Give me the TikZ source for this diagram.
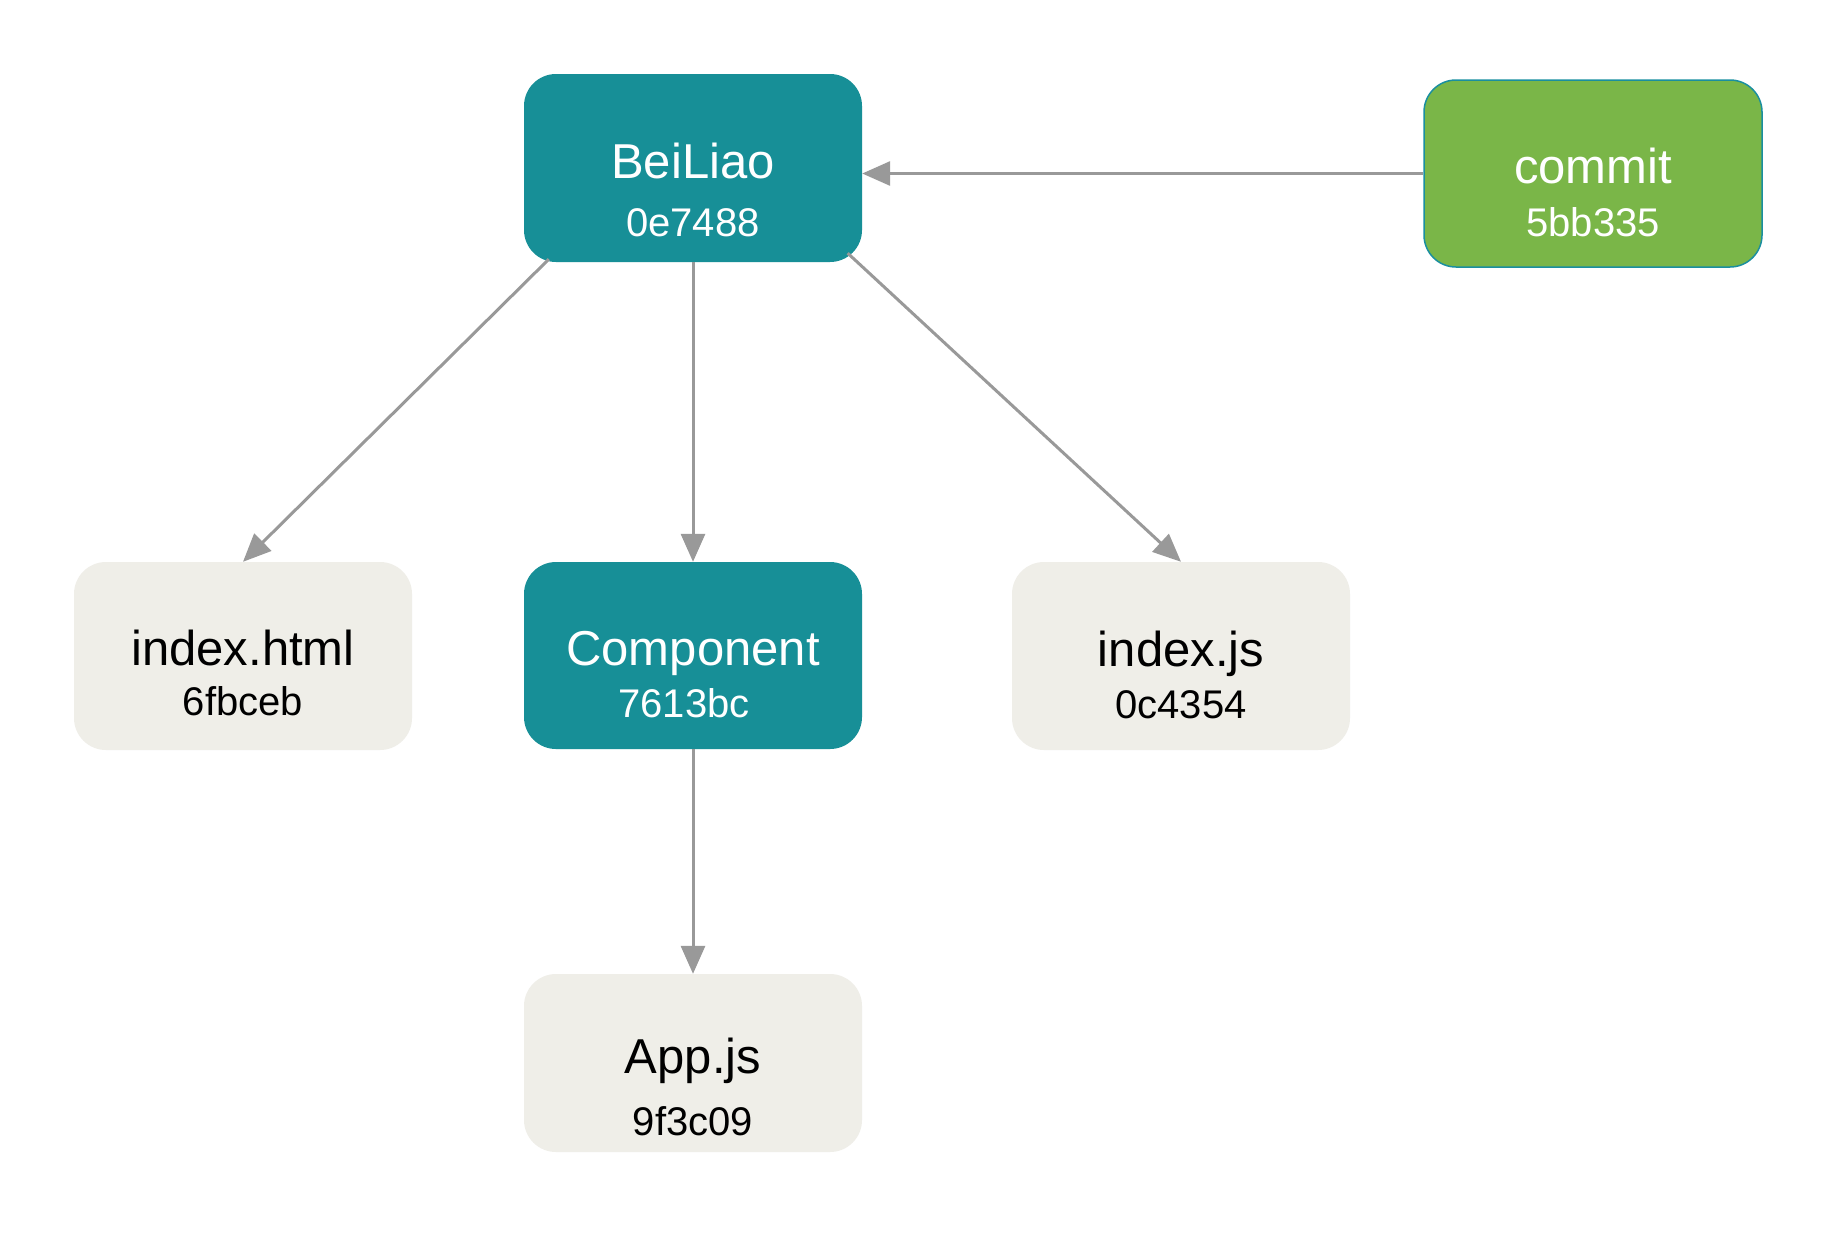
\documentclass[tikz,border=0pt]{standalone}
\usepackage{fontspec}
\setmainfont{Liberation Sans}
\usetikzlibrary{arrows.meta,calc}
\definecolor{tealbox}{HTML}{178F97}
\definecolor{greenbox}{HTML}{7AB648}
\definecolor{greenborder}{HTML}{1A8FA0}
\definecolor{lightbox}{HTML}{EFEEE8}
\definecolor{edgegray}{HTML}{999999}
\tikzset{
  box/.style={rectangle, rounded corners=32pt, minimum width=338pt, minimum height=188pt, inner sep=0pt},
  tealnode/.style={box, fill=tealbox},
  greennode/.style={box, fill=greenbox, draw=greenborder, line width=1.5pt},
  lightnode/.style={box, fill=lightbox},
  ttl/.style={anchor=base, font=\fontsize{49}{58}\selectfont, inner sep=0pt},
  hsh/.style={anchor=base, font=\fontsize{40}{48}\selectfont, inner sep=0pt},
  edge/.style={draw=edgegray, line width=3pt, -{Triangle[length=28pt,width=24pt]}},
}
\begin{document}
\begin{tikzpicture}[x=1pt,y=-1pt]
\fill[white] (0,0) rectangle (1838,1243);
\useasboundingbox (0,0) rectangle (1838,1243);

% boxes
\node[tealnode] (bei) at (693,168) {};
\node[greennode, minimum height=187pt] (commit) at (1593,173.5) {};
\node[lightnode] (html) at (243,656) {};
\node[tealnode, minimum height=187pt] (comp) at (693,655.5) {};
\node[lightnode] (js) at (1181,656) {};
\node[lightnode, minimum height=178pt] (app) at (693,1063) {};

% texts
\node[ttl, text=white] (beit) at (693,178) {BeiLiao};
\node[hsh, text=white] (beih) at (693,236) {0e7488};
\node[ttl, text=white] (committ) at (1593,183) {commit};
\node[hsh, text=white] (commith) at (1593,236) {5bb335};
\node[ttl] (htmlt) at (243,665) {index.html};
\node[hsh] (htmlh) at (243,715) {6fbceb};
\node[ttl, text=white] (compt) at (693,665) {Component};
\node[hsh, text=white] (comph) at (684,717) {7613bc};
\node[ttl] (jst) at (1181,666) {index.js};
\node[hsh] (jsh) at (1181,718) {0c4354};
\node[ttl] (appt) at (693,1073) {App.js};
\node[hsh] (apph) at (693,1135) {9f3c09};

% connectors
\draw[edge] (commit.west) -- (commit.west -| bei.east);
\draw[edge] ($(bei.south west)+(25,-3)$) -- (html.north);
\draw[edge] (bei.south) -- (comp.north);
\draw[edge] ($(bei.south east)+(-14.5,-9)$) -- (js.north);
\draw[edge] (comp.south) -- (app.north);
\end{tikzpicture}
\end{document}
